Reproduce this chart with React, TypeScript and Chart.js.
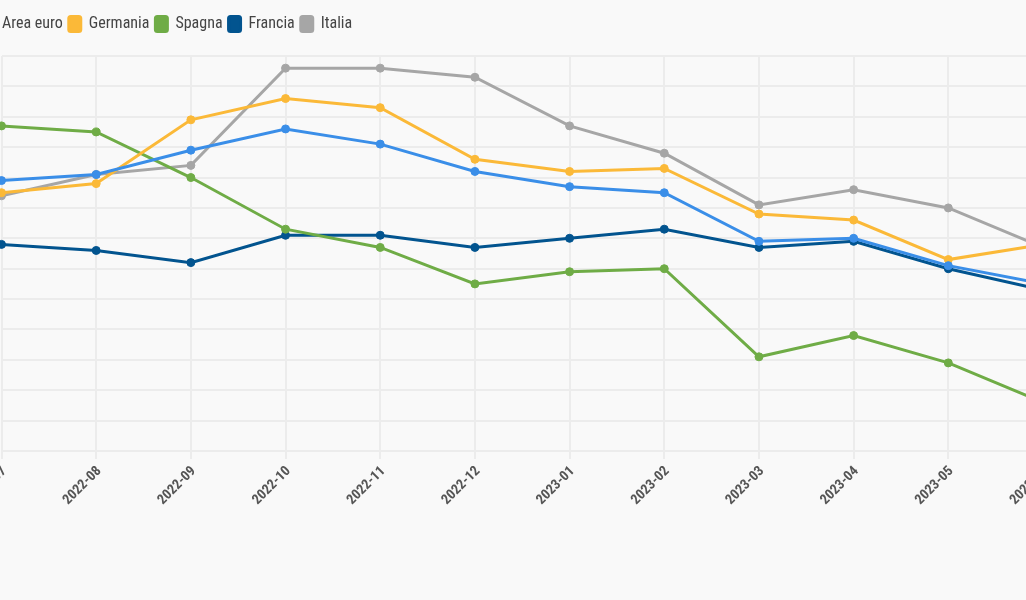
import React, { useEffect, useRef } from "react";
import { Chart, registerables } from "chart.js";

Chart.register(...registerables);

const categories = [
  "2022-07", "2022-08", "2022-09", "2022-10", "2022-11", "2022-12",
  "2023-01", "2023-02", "2023-03", "2023-04", "2023-05", "2023-06",
];
const areaEuro = [8.9, 9.1, 9.9, 10.6, 10.1, 9.2, 8.7, 8.5, 6.9, 7.0, 6.1, 5.5];
const germania = [8.5, 8.8, 10.9, 11.6, 11.3, 9.6, 9.2, 9.3, 7.8, 7.6, 6.3, 6.8];
const spagna = [10.7, 10.5, 9.0, 7.3, 6.7, 5.5, 5.9, 6.0, 3.1, 3.8, 2.9, 1.6];
const francia = [6.8, 6.6, 6.2, 7.1, 7.1, 6.7, 7.0, 7.3, 6.7, 6.9, 6.0, 5.3];
const italia = [8.4, 9.1, 9.4, 12.6, 12.6, 12.3, 10.7, 9.8, 8.1, 8.6, 8.0, 6.7];

const seriesNames = ["Area euro", "Germania", "Spagna", "Francia", "Italia"];
const seriesColors = ["#3a8ee8", "#fbb938", "#6fac46", "#02548f", "#a6a6a6"];
const seriesValues = [areaEuro, germania, spagna, francia, italia];

const yMin = 0;
const yMax = 13;
const yStep = 1;

const FONT = "'Roboto Condensed', 'Liberation Sans Narrow', Roboto, sans-serif";

const legendMargin = {
  id: "legendMargin",
  beforeInit(chart: any) {
    const legend = chart.legend;
    if (!legend) return;
    const origFit = legend.fit;
    legend.fit = function () {
      origFit.call(this);
      this.height += 14;
    };
  },
};

export default function App() {
  const ref = useRef<HTMLCanvasElement | null>(null);

  useEffect(() => {
    if (!ref.current) return;
    const chart = new Chart(ref.current, {
      type: "line",
      data: {
        labels: categories,
        datasets: seriesNames.map((name, i) => ({
          label: name,
          data: seriesValues[i],
          borderColor: seriesColors[i],
          backgroundColor: seriesColors[i],
          pointBackgroundColor: seriesColors[i],
          pointBorderColor: seriesColors[i],
          borderWidth: 3,
          pointRadius: 4,
          pointBorderWidth: 1,
          tension: 0,
          fill: false,
        })),
      },
      options: {
        responsive: false,
        maintainAspectRatio: false,
        animation: false,
        layout: { padding: { top: 6, left: 0, right: 0, bottom: 0 }, autoPadding: false },
        plugins: {
          tooltip: { enabled: false },
          legend: {
            position: "top",
            align: "start",
            labels: {
              boxWidth: 12,
              boxHeight: 15,
              useBorderRadius: true,
              borderRadius: 2,
              padding: 6,
              color: "#444444",
              font: { family: FONT, size: 16 },
            },
          },
        },
        scales: {
          x: {
            offset: false,
            grid: {
              color: "#ececec",
              lineWidth: 2,
              drawTicks: true,
              tickLength: 8,
            },
            border: { display: false },
            ticks: {
              autoSkip: false,
              maxRotation: 45,
              minRotation: 45,
              labelOffset: 3,
              padding: 4,
              color: "#555555",
              font: { family: FONT, size: 14, weight: "bold" },
            },
            afterFit(scale: any) {
              scale.paddingLeft = 0;
              scale.paddingRight = 0;
              scale.height = 60;
            },
          },
          y: {
            min: yMin,
            max: yMax,
            grid: { color: "#ececec", lineWidth: 2, drawTicks: false },
            border: { display: false },
            ticks: { display: false, stepSize: yStep },
            afterFit(scale: any) {
              scale.width = 25.5;
            },
          },
        },
      },
      plugins: [legendMargin],
    } as any);
    return () => chart.destroy();
  }, []);

  return (
    <div
      style={{
        position: "fixed",
        left: 0,
        top: 0,
        width: 1026,
        height: 600,
        overflow: "hidden",
        background: "#f9f9f9",
      }}
    >
      <canvas
        ref={ref}
        width={1067}
        height={507}
        style={{ position: "absolute", left: -24, top: 4, width: 1067, height: 507 }}
      />
    </div>
  );
}
